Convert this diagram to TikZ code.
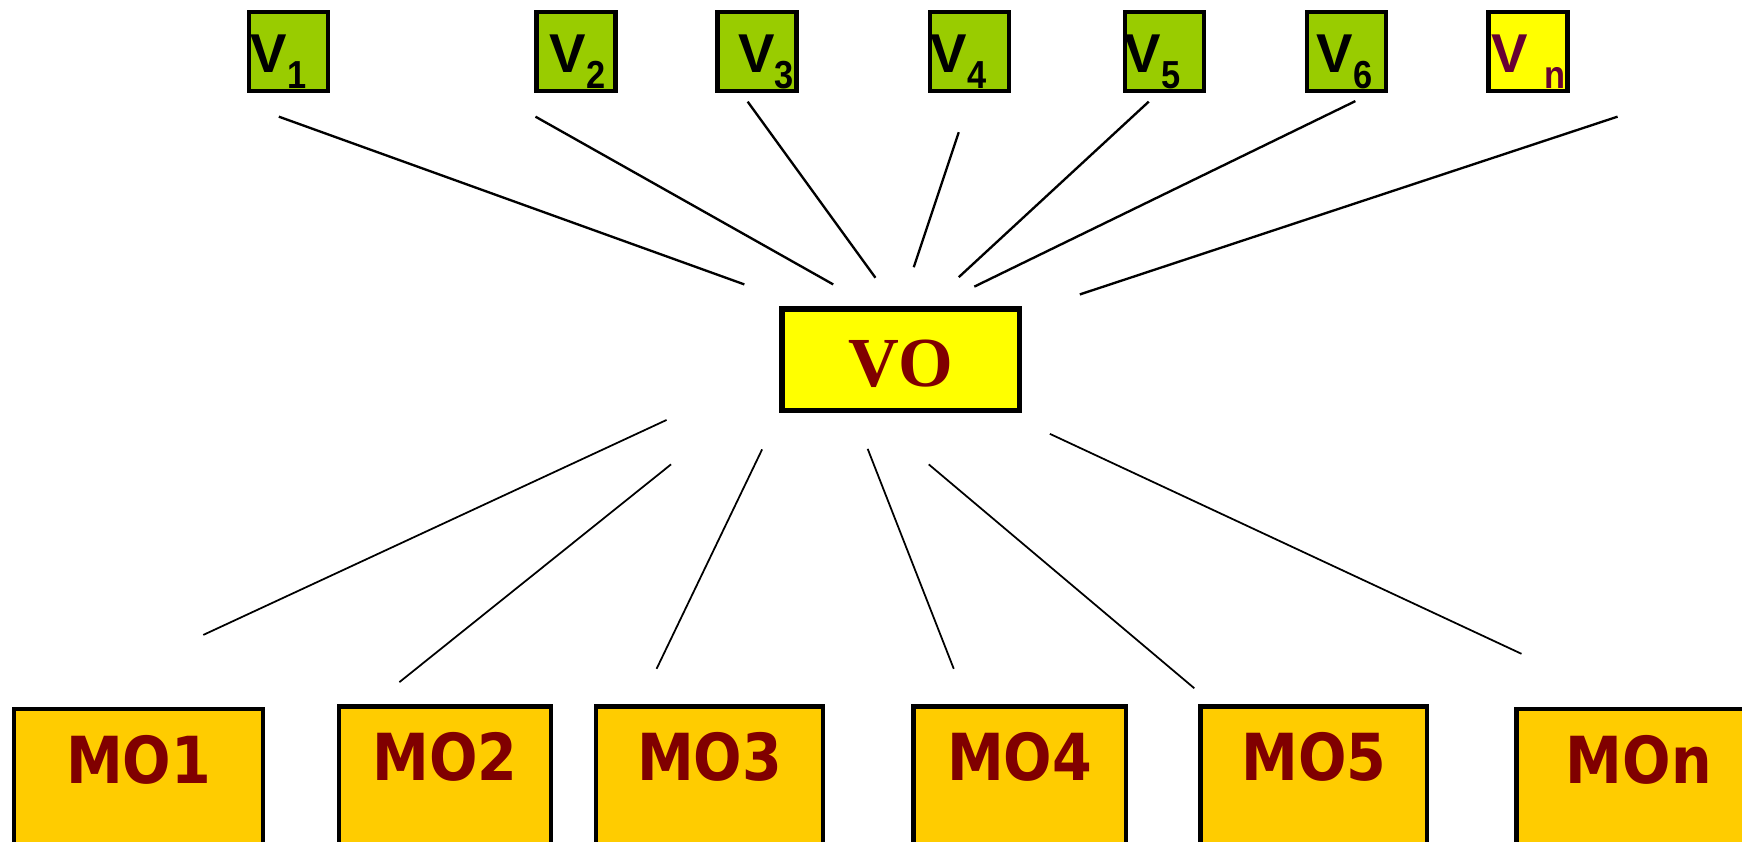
\documentclass[tikz,border=0pt]{standalone}
\usepackage{fontspec}
\usepackage{tikz}
\setmainfont{Liberation Sans}
\newfontfamily\vofont{Liberation Serif}
\newfontfamily\mofont{DejaVu Sans}[FakeStretch=0.88]

\definecolor{vgreen}{HTML}{99CC00}
\definecolor{vyellow}{HTML}{FFFF00}
\definecolor{morange}{HTML}{FFCC00}
\definecolor{mored}{HTML}{800000}
\definecolor{vnred}{HTML}{660033}

%V with a lowered index
\newcommand{\vlab}[2][0pt]{V\hspace{#1}\raisebox{-4pt}{\fontsize{10}{10}\selectfont\scalebox{0.88}[1]{#2}}}

\begin{document}
\begin{tikzpicture}[x=0.01cm,y=-0.01cm,
  vbox/.style={draw,line width=1.1pt,fill=vgreen,anchor=north west,inner sep=0pt,
    minimum width=0.71cm,minimum height=0.71cm},
  vlabel/.style={anchor=base west,inner sep=0pt,font=\fontsize{14}{14}\selectfont\bfseries},
  vobox/.style={draw,line width=1.4pt,fill=vyellow,minimum width=2.135cm,minimum height=0.915cm,
    inner sep=0pt,text height=0.49cm,text depth=0cm,text=mored,font=\vofont\fontsize{18}{18}\selectfont\bfseries},
  mobox/.style={draw,line width=1.1pt,fill=morange,anchor=north,inner xsep=0pt,inner ysep=0.24cm,
    text height=0.43cm,text depth=1.5cm,text=mored,font=\mofont\fontsize{16.6}{16.6}\selectfont\bfseries},
  upline/.style={line width=0.6pt},
  downline/.style={line width=0.45pt}]

\useasboundingbox (0,0) rectangle (1568,757);
\clip (0,0) rectangle (1568,757);

% V boxes
\foreach \n/\x in {1/222.5,2/481,3/644,4/835,5/1011,6/1174.5}
  \node[vbox] (v\n) at (\x,9) {};
\node[vbox,fill=vyellow] (vn) at (1338,9) {};

\foreach \n/\x in {1/225,2/494,3/664,4/837,5/1011.5,6/1184.5}
  \node[vlabel] (vl\n) at (\x,65.5) {\vlab{\n}};
\node[vlabel,text=vnred] (vln) at (1342,65.5) {\vlab[4.3pt]{n}};

% VO
\node[vobox] (vo) at (810.75,323.75) {VO};

% MO boxes
\foreach \n/\x/\y/\w in {1/124.75/636/2.24cm,2/400.5/634/1.905cm,3/638.75/634/2.04cm,
    4/917.7/634/1.91cm,5/1182.6/634/2.04cm}
  \node[mobox,minimum width=\w] (mo\n) at (\x,\y) {MO\n};
\node[mobox,minimum width=2.2cm] (mon) at (1475,636) {MOn};

% Define coordinates of the line ends
\foreach \n/\ax/\ay/\bx/\by in {1/251/105/670/256,2/482/105/750/256,3/673/91.5/788/250,
    4/863/119/822.5/240.5,5/1034/91.5/863/249.5,6/1220/91/877/258,7/1456/105/972/265}{
  \coordinate (ua\n) at (\ax,\ay);
  \coordinate (ub\n) at (\bx,\by);
}
\foreach \n/\ax/\ay/\bx/\by in {1/600/378/183/571.5,2/604/418/359.5/614,3/686/404.5/591/602,
    4/781/404/858.5/602,5/836/418/1075/619.5,6/945/390.5/1369.5/588.5}{
  \coordinate (da\n) at (\ax,\ay);
  \coordinate (db\n) at (\bx,\by);
}

% Lines VO to V
\foreach \n in {1,...,7}
  \draw[upline] (ua\n) -- (ub\n);

% Lines VO to MO
\foreach \n in {1,...,6}
  \draw[downline] (da\n) -- (db\n);

\end{tikzpicture}
\end{document}
